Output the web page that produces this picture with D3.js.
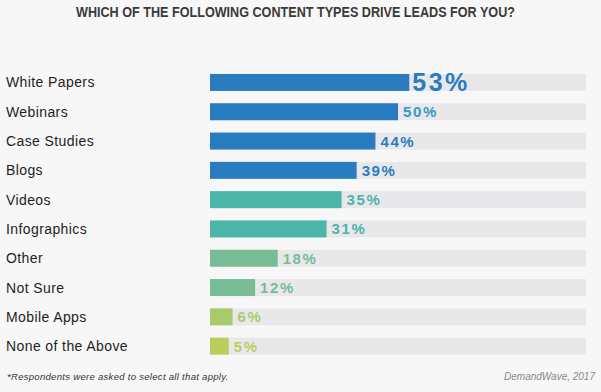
<!DOCTYPE html>
<html>
<head>
<meta charset="utf-8">
<script src="https://cdn.jsdelivr.net/npm/d3@7"></script>
<style>
  body { margin: 0; background: #f7f7f7; }
  svg { display: block; font-family: 'Liberation Sans', Arial, sans-serif; }
</style>
</head>
<body>
<svg width="601" height="392"></svg>
<script>
'use strict'

const categories = ['White Papers', 'Webinars', 'Case Studies', 'Blogs', 'Videos',
    'Infographics', 'Other', 'Not Sure', 'Mobile Apps', 'None of the Above']
const values = [53, 50, 44, 39, 35, 31, 18, 12, 6, 5]
const barColors = ['#2a7cc0', '#2a7cc0', '#2a7cc0', '#2a7cc0', '#4bb5a9',
    '#4bb5a9', '#77bc95', '#77bc95', '#a8cc6c', '#bccd5e']
const labelColors = ['#2a7cc0', '#3a95c9', '#2a7cc0', '#2a7cc0', '#4bb5a9',
    '#4bb5a9', '#77bc95', '#77bc95', '#a8cc6c', '#bccd5e']

const svg = d3.select('svg')
const width = +svg.attr('width')

const x = d3.scaleLinear().domain([0, 100]).range([210, 586])
const y = d3.scaleBand()
    .domain(categories)
    .range([67.8, 360.8])
    .paddingInner(0.42)
    .paddingOuter(0.21)

svg.append('text')
    .attr('x', 76)
    .attr('y', 17)
    .attr('textLength', 439)
    .attr('lengthAdjust', 'spacingAndGlyphs')
    .attr('fill', '#3a3a3c')
    .attr('font-size', 14.5)
    .attr('font-weight', 'bold')
    .text('WHICH OF THE FOLLOWING CONTENT TYPES DRIVE LEADS FOR YOU?')

const row = svg.append('g')
    .selectAll('g')
    .data(categories)
    .enter()
    .append('g')
    .attr('transform', d => `translate(0,${y(d)})`)

row.append('rect')
    .attr('x', x(0))
    .attr('width', x(100) - x(0))
    .attr('height', y.bandwidth())
    .attr('fill', '#e8e8ea')

row.append('rect')
    .attr('x', x(0))
    .attr('width', (d, i) => x(values[i]) - x(0))
    .attr('height', y.bandwidth())
    .attr('fill', (d, i) => barColors[i])

row.append('text')
    .attr('x', 6)
    .attr('y', y.bandwidth() / 2 + 5)
    .attr('font-size', 14)
    .attr('fill', '#1e1e1e')
    .attr('letter-spacing', 0.4)
    .text(d => d)

row.append('text')
    .attr('x', (d, i) => x(values[i]) + (i === 0 ? 3 : 5))
    .attr('y', (d, i) => y.bandwidth() / 2 + (i === 0 ? 9 : 5.5))
    .attr('font-size', (d, i) => i === 0 ? 25 : 15)
    .attr('font-weight', 'bold')
    .attr('letter-spacing', (d, i) => i === 0 ? 2.5 : 1.6)
    .attr('fill', (d, i) => labelColors[i])
    .text((d, i) => values[i] + '%')

svg.append('text')
    .attr('x', 7)
    .attr('y', 380)
    .attr('font-size', 9.5)
    .attr('letter-spacing', 0.3)
    .attr('font-style', 'italic')
    .attr('fill', '#333')
    .text('*Respondents were asked to select all that apply.')

svg.append('text')
    .attr('x', width - 6)
    .attr('y', 380)
    .attr('text-anchor', 'end')
    .attr('font-size', 10)
    .attr('font-style', 'italic')
    .attr('fill', '#888')
    .text('DemandWave, 2017')
</script>
</body>
</html>
